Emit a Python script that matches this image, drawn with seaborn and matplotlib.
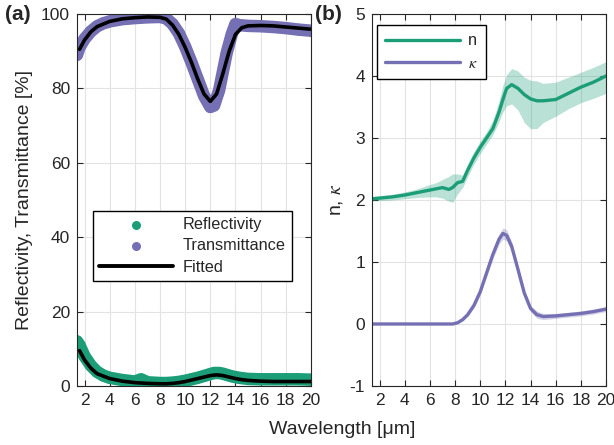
import numpy as np
import pandas as pd
import matplotlib
matplotlib.use("Agg")
import matplotlib.pyplot as plt
import seaborn as sns

green = "#1b9e77"
purple = "#7570b3"

# measured reflectivity / transmittance
wl_meas = [1.4, 1.6, 2.0, 2.5, 3.0, 3.5, 4.0, 5.0, 6.0, 6.5, 7.0, 8.0, 8.5, 9.0, 9.5,
           10.0, 10.5, 11.0, 11.5, 12.0, 12.3, 12.7, 13.0, 13.3, 13.7, 14.0, 14.3,
           15.0, 16.0, 17.0, 18.0, 19.0, 20.0]
refl_meas = [12.0, 11.0, 8.0, 5.5, 3.8, 2.8, 2.2, 1.6, 1.2, 1.8, 1.0, 0.8, 0.8, 0.9, 1.1,
             1.4, 1.8, 2.2, 2.7, 3.2, 3.5, 3.5, 3.3, 3.0, 2.6, 2.4, 2.2,
             1.9, 1.8, 1.8, 1.8, 1.8, 1.7]
trans_meas = [89.0, 91.0, 93.3, 95.3, 96.7, 97.5, 98.0, 98.6, 98.9, 99.0, 99.1, 99.2, 98.8, 97.3, 94.8,
              91.2, 87.0, 82.5, 78.0, 75.0, 75.4, 79.5, 84.5, 89.5, 94.5, 97.3, 97.0,
              96.8, 96.7, 96.5, 96.2, 95.8, 95.5]

# fitted curves
wl_fit = [1.6, 2.0, 2.5, 3.0, 4.0, 5.0, 6.0, 7.0, 8.0, 8.5, 9.0, 9.5, 10.0, 10.5, 11.0,
          11.5, 12.0, 12.5, 13.0, 13.5, 14.0, 14.5, 15.0, 16.0, 17.0, 18.0, 19.0, 20.0]
refl_fit = [9.5, 7.0, 4.8, 3.3, 2.0, 1.3, 0.9, 0.7, 0.6, 0.6, 0.7, 0.9, 1.2, 1.6, 2.0,
            2.4, 2.8, 3.0, 2.8, 2.4, 2.0, 1.7, 1.5, 1.3, 1.2, 1.2, 1.2, 1.2]
trans_fit = [90.5, 93.0, 95.2, 96.6, 98.0, 98.7, 99.0, 99.2, 99.1, 98.6, 97.0, 94.5, 91.0, 87.0, 82.5,
             78.5, 76.5, 78.5, 84.0, 90.0, 94.5, 96.3, 96.8, 96.9, 96.8, 96.5, 96.2, 95.9]

# optical constants
wl_nk = [1.4, 2.0, 3.0, 4.0, 5.0, 6.0, 6.5, 7.0, 7.5, 7.8, 8.2, 8.6, 9.0, 9.5, 10.0,
         10.5, 11.0, 11.5, 11.8, 12.1, 12.5, 13.0, 13.5, 14.0, 14.5, 15.0, 16.0, 17.0, 18.0, 19.0, 20.0]
n_val = [2.02, 2.03, 2.05, 2.08, 2.12, 2.16, 2.18, 2.20, 2.17, 2.20, 2.28, 2.30, 2.48, 2.68, 2.85,
         3.00, 3.15, 3.42, 3.62, 3.80, 3.86, 3.80, 3.70, 3.63, 3.60, 3.60, 3.62, 3.72, 3.82, 3.90, 4.00]
n_low = [1.99, 1.99, 2.00, 2.02, 2.04, 2.05, 2.05, 2.03, 1.98, 1.96, 2.10, 2.20, 2.38, 2.58, 2.75,
         2.90, 3.05, 3.27, 3.42, 3.52, 3.55, 3.45, 3.25, 3.15, 3.15, 3.25, 3.35, 3.47, 3.57, 3.64, 3.72]
n_high = [2.05, 2.07, 2.09, 2.13, 2.18, 2.25, 2.28, 2.33, 2.38, 2.42, 2.42, 2.40, 2.58, 2.78, 2.95,
          3.10, 3.28, 3.60, 3.85, 4.02, 4.12, 4.08, 3.98, 3.93, 3.92, 3.88, 3.90, 3.98, 4.06, 4.14, 4.23]
k_val = [0.0, 0.0, 0.0, 0.0, 0.0, 0.0, 0.0, 0.0, 0.0, 0.0, 0.02, 0.07, 0.15, 0.30, 0.52,
         0.82, 1.12, 1.37, 1.46, 1.43, 1.25, 0.88, 0.50, 0.25, 0.15, 0.12, 0.13, 0.15, 0.17, 0.20, 0.24]
k_err = [0.0, 0.0, 0.0, 0.0, 0.0, 0.0, 0.0, 0.0, 0.0, 0.0, 0.01, 0.02, 0.03, 0.04, 0.05,
         0.06, 0.07, 0.08, 0.09, 0.09, 0.08, 0.06, 0.05, 0.05, 0.06, 0.05, 0.04, 0.04, 0.04, 0.04, 0.04]

sns.set_theme(style="ticks")
plt.rcParams["font.family"] = ["Liberation Sans", "DejaVu Sans"]
plt.rcParams["mathtext.fontset"] = "stix"
plt.rcParams["axes.unicode_minus"] = False

meas = pd.DataFrame({"wl": wl_meas, "R": refl_meas, "T": trans_meas})
fit = pd.DataFrame({"wl": wl_fit, "R": refl_fit, "T": trans_fit})
nk = pd.DataFrame({"wl": wl_nk, "n": n_val, "nlo": n_low, "nhi": n_high, "k": k_val, "kerr": k_err})

fig = plt.figure(figsize=(6.14, 4.45), dpi=100)
ax1 = fig.add_axes([0.1254, 0.1326, 0.381, 0.836])
ax2 = fig.add_axes([0.606, 0.1326, 0.381, 0.836])

fs_tick = 12.5
fs_lab = 14
fs_leg = 11.7
txt = "#262626"

# (a) measured data drawn as a thick band of markers, fits in black
for col, c in [("R", green), ("T", purple)]:
    sns.lineplot(data=meas, x="wl", y=col, ax=ax1, color=c, lw=9,
                 solid_capstyle="round", legend=False)
    sns.scatterplot(data=meas, x="wl", y=col, ax=ax1, color=c, s=70,
                    edgecolor="none", legend=False)
sns.lineplot(data=fit, x="wl", y="R", ax=ax1, color="black", lw=2.6)
sns.lineplot(data=fit, x="wl", y="T", ax=ax1, color="black", lw=2.6)

h1 = ax1.scatter([], [], color=green, s=30, label="Reflectivity")
h2 = ax1.scatter([], [], color=purple, s=30, label="Transmittance")
h3, = ax1.plot([], [], color="black", lw=2.8, label="Fitted")
ax1.legend(handles=[h1, h2, h3], loc="upper left", bbox_to_anchor=(0.068, 0.47),
           fontsize=fs_leg, frameon=True, fancybox=False, edgecolor="black",
           framealpha=1, handlelength=4.6, borderaxespad=0, labelspacing=0.4,
           borderpad=0.35, handletextpad=0.6)
ax1.set_ylim(0, 100)
ax1.set_yticks([0, 20, 40, 60, 80, 100])
ax1.set_ylabel("Reflectivity, Transmittance [%]", fontsize=fs_lab, color=txt)
ax1.yaxis.set_label_coords(-0.19, 0.5)

# (b) n and kappa with uncertainty bands
ax2.fill_between(nk["wl"], nk["nlo"], nk["nhi"], color=green, alpha=0.3, lw=0)
ax2.fill_between(nk["wl"], nk["k"] - nk["kerr"], nk["k"] + nk["kerr"], color=purple, alpha=0.3, lw=0)
sns.lineplot(data=nk, x="wl", y="n", ax=ax2, color=green, lw=2.4, label="n")
sns.lineplot(data=nk, x="wl", y="k", ax=ax2, color=purple, lw=2.4, label=r"$\kappa$")
ax2.legend(loc="upper left", bbox_to_anchor=(0.021, 0.97), fontsize=fs_leg, frameon=True,
           fancybox=False, edgecolor="black", framealpha=1, handlelength=4.6,
           borderaxespad=0, labelspacing=0.45, borderpad=0.5, handletextpad=0.5)
ax2.set_ylim(-1, 5)
ax2.set_yticks([-1, 0, 1, 2, 3, 4, 5])
ax2.set_ylabel(r"n, $\kappa$", fontsize=fs_lab, color=txt)
ax2.yaxis.set_label_coords(-0.115, 0.5)

for ax in (ax1, ax2):
    ax.set_xlim(1.4, 20)
    ax.set_xticks(range(2, 21, 2))
    ax.set_xlabel("")
    ax.grid(True, color="#e3e3e3", lw=0.8)
    ax.set_axisbelow(True)
    ax.tick_params(direction="in", top=True, right=True, labelsize=fs_tick,
                   colors=txt, length=4, width=0.8, pad=5)
    for s in ax.spines.values():
        s.set_color(txt)
        s.set_linewidth(0.8)

fig.text(0.558, 0.034, "Wavelength [μm]", ha="center", va="center", fontsize=fs_lab, color=txt)
fig.text(0.008, 0.968, "(a)", fontsize=15, fontweight="bold", va="center")
fig.text(0.513, 0.968, "(b)", fontsize=15, fontweight="bold", va="center")

fig.savefig("out.png", dpi=100)
